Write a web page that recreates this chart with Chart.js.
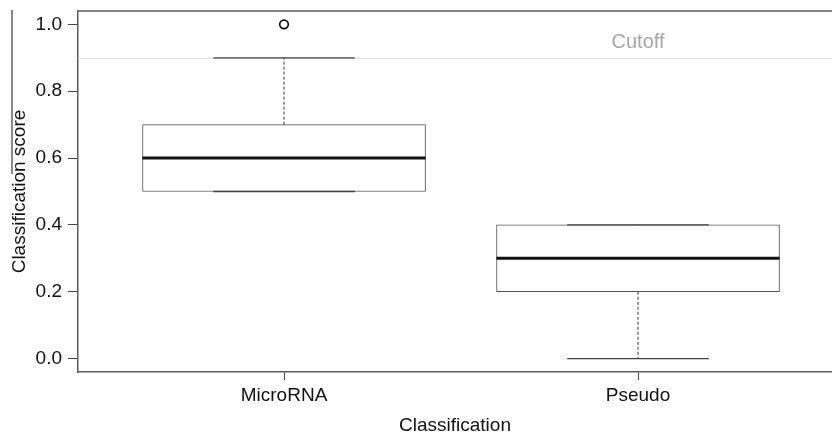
<!DOCTYPE html>
<html>
<head>
<meta charset="utf-8">
<script src="https://cdn.jsdelivr.net/npm/chart.js@4/dist/chart.umd.min.js"></script>
<style>
  html, body { margin: 0; padding: 0; background: #fff; }
  #wrap { width: 832px; height: 435px; overflow: hidden; }
</style>
</head>
<body>
<div id="wrap"><canvas id="chart" width="832" height="435"></canvas></div>
<script>
// Classification scores per class, summarised as box-plot statistics
const categories     = ['MicroRNA', 'Pseudo'];
const lowerWhisker   = [0.5, 0.0];
const firstQuartile  = [0.5, 0.2];
const medianScore    = [0.6, 0.3];
const thirdQuartile  = [0.7, 0.4];
const upperWhisker   = [0.9, 0.4];
const outlierScores  = [[1.0], []];
const cutoffScore    = 0.9;
const cutoffLabel    = 'Cutoff';
const scoreTicks     = [0, 0.2, 0.4, 0.6, 0.8, 1.0];

const FONT = "'Liberation Sans', Arial, Helvetica, sans-serif";
const BOX_HALF = 0.4;   // half box width, in category units
const CAP_HALF = 0.2;   // half whisker-cap width

const datasets = [];

// boxes: first to third quartile
datasets.push({
  type: 'bar',
  data: categories.map((c, i) => ({ x: i + 1, y: [firstQuartile[i], thirdQuartile[i]] })),
  backgroundColor: '#ffffff',
  borderColor: '#555555',
  borderWidth: 1,
  borderSkipped: false,
  barThickness: 283,
  order: 5
});

categories.forEach((c, i) => {
  const x = i + 1;
  const seg = (pts, extra) => Object.assign({
    type: 'line',
    data: pts,
    pointRadius: 0,
    fill: false,
    tension: 0,
    borderCapStyle: 'butt'
  }, extra);

  // dashed whisker stems
  datasets.push(seg([{ x, y: thirdQuartile[i] }, { x, y: upperWhisker[i] }],
    { borderColor: '#333', borderWidth: 1, borderDash: [3, 2], order: 4 }));
  datasets.push(seg([{ x, y: firstQuartile[i] }, { x, y: lowerWhisker[i] }],
    { borderColor: '#333', borderWidth: 1, borderDash: [3, 2], order: 4 }));

  // whisker caps
  datasets.push(seg([{ x: x - CAP_HALF, y: upperWhisker[i] }, { x: x + CAP_HALF, y: upperWhisker[i] }],
    { borderColor: '#444', borderWidth: 1.3, order: 3 }));
  datasets.push(seg([{ x: x - CAP_HALF, y: lowerWhisker[i] }, { x: x + CAP_HALF, y: lowerWhisker[i] }],
    { borderColor: '#444', borderWidth: 1.3, order: 3 }));

  // median
  datasets.push(seg([{ x: x - BOX_HALF, y: medianScore[i] }, { x: x + BOX_HALF, y: medianScore[i] }],
    { borderColor: '#111', borderWidth: 3, order: 1 }));
});

// outliers
datasets.push({
  type: 'scatter',
  data: categories.flatMap((c, i) => outlierScores[i].map(v => ({ x: i + 1, y: v }))),
  pointRadius: 4.3,
  pointBorderWidth: 1.7,
  pointBorderColor: '#111',
  pointBackgroundColor: '#fff',
  order: 0
});

// keep the plot region fixed: no automatic room for edge labels
function fixedScale(size, key) {
  return function (scale) {
    scale[key] = size;
    scale.paddingTop = 0;
    scale.paddingBottom = 0;
    scale.paddingLeft = 0;
    scale.paddingRight = 0;
  };
}

// frame top edge, cutoff line with its label, and the thin rule at the far left
const decorations = {
  id: 'decorations',
  beforeDatasetsDraw(chart) {
    const { ctx, chartArea, scales } = chart;
    const y = scales.y.getPixelForValue(cutoffScore);
    ctx.save();
    ctx.strokeStyle = '#dddddd';
    ctx.lineWidth = 1;
    ctx.beginPath();
    ctx.moveTo(chartArea.left, Math.round(y) + 0.5);
    ctx.lineTo(chartArea.right, Math.round(y) + 0.5);
    ctx.stroke();

    ctx.fillStyle = '#a6a6a6';
    ctx.font = '20px ' + FONT;
    ctx.textAlign = 'center';
    ctx.textBaseline = 'alphabetic';
    ctx.fillText(cutoffLabel, scales.x.getPixelForValue(2), y - 10);
    ctx.restore();
  },
  afterDraw(chart) {
    const { ctx, chartArea } = chart;
    ctx.save();
    ctx.strokeStyle = '#5a5a5a';
    ctx.lineWidth = 1.5;
    ctx.beginPath();
    ctx.moveTo(chartArea.left, chartArea.top);
    ctx.lineTo(chartArea.right, chartArea.top);
    ctx.stroke();

    ctx.strokeStyle = '#8a8a8a';
    ctx.lineWidth = 2;
    ctx.beginPath();
    ctx.moveTo(12, 10);
    ctx.lineTo(12, 174);
    ctx.stroke();
    ctx.restore();
  }
};

new Chart(document.getElementById('chart'), {
  type: 'bar',
  data: { datasets },
  plugins: [decorations],
  options: {
    responsive: false,
    animation: false,
    devicePixelRatio: 1,
    layout: { autoPadding: false, padding: { top: 11, right: 0, bottom: 0, left: 0 } },
    plugins: { legend: { display: false }, tooltip: { enabled: false } },
    scales: {
      x: {
        type: 'linear',
        min: 0.418,
        max: 2.548,
        offset: false,
        afterBuildTicks(scale) { scale.ticks = categories.map((c, i) => ({ value: i + 1 })); },
        afterFit: fixedScale(63, 'height'),
        ticks: {
          callback: (v) => categories[v - 1],
          color: '#111',
          font: { family: FONT, size: 19, lineHeight: 1 },
          padding: 6,
          maxRotation: 0,
          autoSkip: false
        },
        grid: { drawOnChartArea: false, offset: false, tickLength: 8, tickColor: '#444', tickWidth: 1 },
        border: { display: true, color: '#5a5a5a', width: 1.5 },
        title: {
          display: true,
          text: 'Classification',
          color: '#111',
          font: { family: FONT, size: 19, lineHeight: 1 },
          padding: { top: 0, bottom: 0 }
        }
      },
      y: {
        type: 'linear',
        min: -0.04,
        max: 1.04,
        afterBuildTicks(scale) { scale.ticks = scoreTicks.map(v => ({ value: v })); },
        afterFit: fixedScale(78, 'width'),
        ticks: {
          callback: (v) => v.toFixed(1),
          color: '#111',
          font: { family: FONT, size: 19, lineHeight: 1 },
          padding: 6
        },
        grid: { drawOnChartArea: false, tickLength: 10, tickColor: '#444', tickWidth: 1 },
        border: { display: true, color: '#5a5a5a', width: 1.5 },
        title: {
          display: true,
          text: 'Classification score',
          color: '#111',
          font: { family: FONT, size: 19, lineHeight: 1 },
          padding: { top: 10, bottom: 0 }
        }
      }
    }
  }
});
</script>
</body>
</html>
